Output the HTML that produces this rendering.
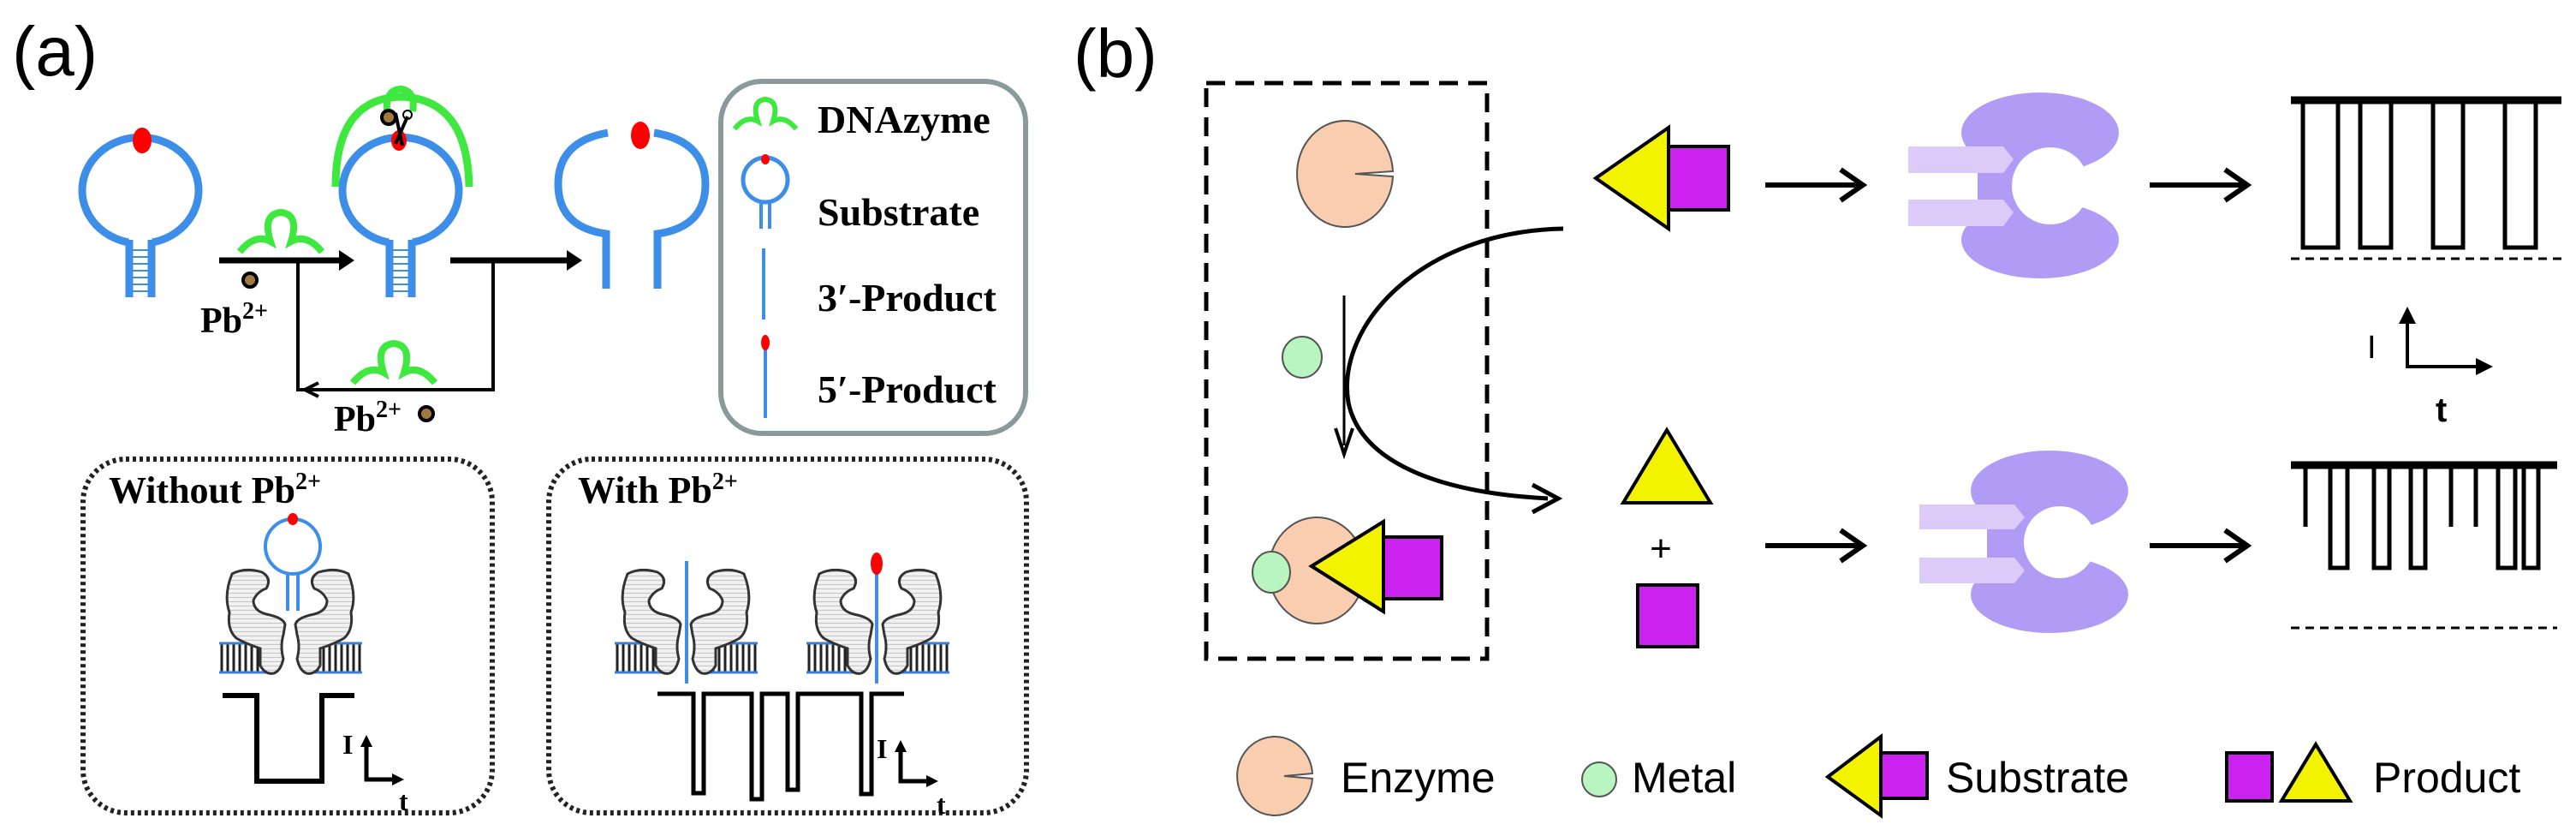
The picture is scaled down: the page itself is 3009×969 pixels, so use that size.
<!DOCTYPE html>
<html><head><meta charset="utf-8"><style>
html,body{margin:0;padding:0;background:#fff;}
svg{display:block;}
.sf{font-family:"Liberation Serif",serif;font-weight:bold;}
.ss{font-family:"Liberation Sans",sans-serif;}
</style></head><body>
<svg width="3009" height="969" viewBox="0 0 3009 969" xmlns="http://www.w3.org/2000/svg">
<defs>
 <pattern id="hs" width="6" height="5" patternUnits="userSpaceOnUse"><rect width="6" height="5" fill="#f2f2f2"/><line x1="0" y1="2.5" x2="6" y2="2.5" stroke="#c8c8c8" stroke-width="1.2"/></pattern>
 <pattern id="mem" width="7" height="40" patternUnits="userSpaceOnUse"><rect width="7" height="40" fill="#fff"/><line x1="3" y1="0" x2="3" y2="40" stroke="#222" stroke-width="3"/></pattern>
 <g id="blob"><path d="M15 5 Q30 -3 50 3 Q62 10 55 22 Q44 26 40 36 Q40 48 55 52 Q75 56 77 64 L75 76 Q71 90 75 104 Q72 118 64 121 Q54 123 48 112 L48 92 Q30 86 20 80 Q9 70 12 50 Q5 30 15 5 Z" fill="url(#hs)" stroke="#333" stroke-width="3"/></g>
 <g id="pore">
  <rect x="0" y="85" width="58" height="36" fill="url(#mem)"/>
  <rect x="112" y="85" width="55" height="36" fill="url(#mem)"/>
  <line x1="0" y1="86" x2="58" y2="86" stroke="#3d7fd8" stroke-width="3"/><line x1="0" y1="120" x2="58" y2="120" stroke="#3d7fd8" stroke-width="3"/>
  <line x1="112" y1="86" x2="167" y2="86" stroke="#3d7fd8" stroke-width="3"/><line x1="112" y1="120" x2="167" y2="120" stroke="#3d7fd8" stroke-width="3"/>
  <use href="#blob"/>
  <use href="#blob" transform="translate(166,0) scale(-1,1)"/>
 </g>
 <g id="dz"><path d="M-48 22 Q-30 0 -12 10 Q-22 -22 0 -24 Q22 -22 12 10 Q30 0 48 22" fill="none" stroke="#3ee83e" stroke-width="8"/></g>
</defs>

<!-- (a) -->
<text x="14" y="88" class="ss" font-size="82">(a)</text>

<g stroke="#3d8ee8" stroke-width="9" fill="none">
 <path d="M150 283 A68 62 0 1 1 178 283"/>
 <line x1="151" y1="280" x2="151" y2="347"/><line x1="177" y1="280" x2="177" y2="347"/>
</g>
<g stroke="#3d8ee8" stroke-width="2"><path d="M151 292H177M151 300H177M151 308H177M151 316H177M151 324H177M151 332H177M151 340H177"/></g>
<ellipse cx="166" cy="164" rx="11" ry="15" fill="#f00"/>

<path d="M392 218 Q392 115 468 113 Q546 115 548 218" fill="none" stroke="#3ee83e" stroke-width="9"/>
<path d="M452 130 Q450 105 468 104 Q486 106 482 130" fill="none" stroke="#3ee83e" stroke-width="8"/>
<g stroke="#3d8ee8" stroke-width="9" fill="none">
 <path d="M454 283 A68 62 0 1 1 482 283"/>
 <line x1="455" y1="280" x2="455" y2="347"/><line x1="481" y1="280" x2="481" y2="347"/>
</g>
<g stroke="#3d8ee8" stroke-width="2"><path d="M455 292H481M455 300H481M455 308H481M455 316H481M455 324H481M455 332H481M455 340H481"/></g>
<ellipse cx="466" cy="164" rx="9" ry="12" fill="#f00"/>
<circle cx="454" cy="137" r="8" fill="#a07840" stroke="#000" stroke-width="4"/>
<path d="M462 132 L470 170 M476 136 L462 168" stroke="#000" stroke-width="4"/>
<circle cx="476" cy="134" r="5" fill="none" stroke="#000" stroke-width="2"/>

<line x1="256" y1="304" x2="400" y2="304" stroke="#000" stroke-width="7"/>
<polygon points="396,292 414,304 396,316" fill="#000"/>
<use href="#dz" transform="translate(328,272)"/>
<circle cx="292" cy="327" r="8" fill="#a07840" stroke="#000" stroke-width="4"/>
<text x="234" y="388" class="sf" font-size="42">Pb<tspan dy="-16" font-size="28">2+</tspan></text>
<path d="M576 304 V455 H348 V304" fill="none" stroke="#000" stroke-width="4"/>
<path d="M372 447 L356 455 L372 463" fill="none" stroke="#000" stroke-width="4"/>
<line x1="526" y1="304" x2="666" y2="304" stroke="#000" stroke-width="7"/>
<polygon points="662,292 680,304 662,316" fill="#000"/>
<use href="#dz" transform="translate(460,425)"/>
<text x="390" y="503" class="sf" font-size="42">Pb<tspan dy="-16" font-size="28">2+</tspan></text>
<circle cx="498" cy="483" r="8" fill="#a07840" stroke="#000" stroke-width="4"/>

<g stroke="#3d8ee8" stroke-width="9" fill="none">
 <path d="M710 155 Q652 165 652 215 Q652 265 708 273 V337"/>
 <path d="M764 155 Q824 165 824 215 Q824 265 768 273 V337"/>
</g>
<ellipse cx="748" cy="158" rx="11" ry="16" fill="#f00"/>

<rect x="842" y="95" width="356" height="411" rx="48" fill="none" stroke="#8a9a9a" stroke-width="6"/>
<use href="#dz" transform="translate(894,134) scale(0.75)"/>
<text x="955" y="155" class="sf" font-size="46">DNAzyme</text>
<circle cx="894" cy="210" r="26" fill="none" stroke="#3d8ee8" stroke-width="5"/>
<ellipse cx="894" cy="186" rx="5" ry="6" fill="#f00"/>
<g stroke="#3d8ee8" stroke-width="4"><line x1="889" y1="234" x2="889" y2="267"/><line x1="899" y1="234" x2="899" y2="267"/></g>
<text x="955" y="263" class="sf" font-size="46">Substrate</text>
<line x1="892" y1="290" x2="892" y2="373" stroke="#3d8ee8" stroke-width="4"/>
<text x="955" y="363" class="sf" font-size="46">3′-Product</text>
<line x1="894" y1="405" x2="894" y2="488" stroke="#3d8ee8" stroke-width="4"/>
<ellipse cx="894" cy="400" rx="5" ry="9" fill="#f00"/>
<text x="955" y="470" class="sf" font-size="46">5′-Product</text>

<rect x="97" y="536" width="478" height="413" rx="50" fill="none" stroke="#222" stroke-width="6" stroke-dasharray="4 4"/>
<rect x="641" y="536" width="558" height="413" rx="50" fill="none" stroke="#222" stroke-width="6" stroke-dasharray="4 4"/>
<text x="127" y="587" class="sf" font-size="44">Without Pb<tspan dy="-16" font-size="28">2+</tspan></text>
<text x="675" y="587" class="sf" font-size="44">With Pb<tspan dy="-16" font-size="28">2+</tspan></text>

<use href="#pore" transform="translate(256,665)"/>
<circle cx="342" cy="638" r="32" fill="none" stroke="#3d8ee8" stroke-width="4"/>
<g stroke="#3d8ee8" stroke-width="4"><line x1="336" y1="668" x2="336" y2="713"/><line x1="348" y1="668" x2="348" y2="713"/></g>
<ellipse cx="342" cy="606" rx="6" ry="7" fill="#f00"/>
<path d="M260 812 H300 V912 H376 V812 H414" fill="none" stroke="#000" stroke-width="6"/>
<text x="400" y="880" class="sf" font-size="32">I</text>
<path d="M428 866 V910 H464" fill="none" stroke="#000" stroke-width="5"/>
<path d="M421 872 L428 858 L435 872Z M458 903 L472 910 L458 917Z" fill="#000"/>
<text x="466" y="946" class="sf" font-size="32">t</text>

<use href="#pore" transform="translate(718,665)"/>
<use href="#pore" transform="translate(942,665)"/>
<line x1="802" y1="655" x2="802" y2="798" stroke="#3d8ee8" stroke-width="4"/>
<line x1="1024" y1="665" x2="1024" y2="798" stroke="#3d8ee8" stroke-width="4"/>
<ellipse cx="1024" cy="658" rx="7" ry="13" fill="#f00"/>
<g fill="none" stroke="#000" stroke-width="5">
<path d="M768 810 H810 V926 H822 V810 H878 V933 H890 V810 H920 V922 H932 V810 H1006 V927 H1018 V810 H1056"/>
</g>
<text x="1024" y="885" class="sf" font-size="32">I</text>
<path d="M1052 872 V912 H1088" fill="none" stroke="#000" stroke-width="5"/>
<path d="M1045 878 L1052 864 L1059 878Z M1082 905 L1096 912 L1082 919Z" fill="#000"/>
<text x="1094" y="950" class="sf" font-size="32">t</text>

<!-- (b) -->
<text x="1254" y="90" class="ss" font-size="80">(b)</text>
<rect x="1409" y="97" width="328" height="672" fill="none" stroke="#000" stroke-width="5" stroke-dasharray="22 12"/>

<path d="M1627 206 A56 62 0 1 1 1627 200 L1583 203 Z" fill="#f9cdb0" stroke="#555" stroke-width="2"/>
<rect x="1949" y="171" width="70" height="74" fill="#cc22f0" stroke="#000" stroke-width="4"/>
<polygon points="1864,208 1949,149 1949,267" fill="#f3f300" stroke="#000" stroke-width="4"/>

<path d="M1826 267 C1660 270 1560 380 1575 470 C1590 540 1680 575 1808 582" fill="none" stroke="#000" stroke-width="5"/>
<path d="M1790 566 L1820 582 L1790 598" fill="none" stroke="#000" stroke-width="5"/>
<line x1="1570" y1="345" x2="1570" y2="520" stroke="#000" stroke-width="3"/>
<path d="M1560 500 L1570 530 L1580 500" fill="none" stroke="#000" stroke-width="4"/>
<ellipse cx="1521" cy="417" rx="23" ry="24" fill="#b8f5c0" stroke="#555" stroke-width="2"/>

<path d="M1594 669 A56 62 0 1 1 1594 663 L1560 666 Z" fill="#f9cdb0" stroke="#555" stroke-width="2"/>
<ellipse cx="1485" cy="668" rx="22" ry="24" fill="#b8f5c0" stroke="#555" stroke-width="2"/>
<rect x="1616" y="627" width="68" height="72" fill="#cc22f0" stroke="#000" stroke-width="4"/>
<polygon points="1532,661 1616,609 1616,714" fill="#f3f300" stroke="#000" stroke-width="4"/>

<polygon points="1947,502 1896,587 1998,587" fill="#f3f300" stroke="#000" stroke-width="4"/>
<text x="1940" y="655" class="ss" font-size="44" text-anchor="middle">+</text>
<rect x="1913" y="683" width="70" height="72" fill="#cc22f0" stroke="#000" stroke-width="4"/>

<g stroke="#000" stroke-width="6" fill="none">
<line x1="2062" y1="216" x2="2172" y2="216"/><path d="M2150 198 L2176 216 L2150 234"/>
<line x1="2511" y1="216" x2="2621" y2="216"/><path d="M2599 198 L2625 216 L2599 234"/>
<line x1="2062" y1="637" x2="2172" y2="637"/><path d="M2150 619 L2176 637 L2150 655"/>
<line x1="2511" y1="637" x2="2621" y2="637"/><path d="M2599 619 L2625 637 L2599 655"/>
</g>

<g>
<ellipse cx="2383" cy="155" rx="92" ry="47" fill="#b19cf5"/>
<ellipse cx="2383" cy="280" rx="92" ry="45" fill="#b19cf5"/>
<rect x="2310" y="155" width="80" height="125" fill="#b19cf5"/>
<circle cx="2395" cy="217" r="45" fill="#fff"/>
<rect x="2395" y="200" width="90" height="35" fill="#fff"/>
<polygon points="2229,171 2340,171 2352,186 2340,202 2229,202" fill="#dccbf8"/>
<polygon points="2229,233 2340,233 2352,248 2340,264 2229,264" fill="#dccbf8"/>
</g>
<g transform="translate(11,411)">
<ellipse cx="2383" cy="162" rx="92" ry="47" fill="#b19cf5"/>
<ellipse cx="2383" cy="283" rx="92" ry="45" fill="#b19cf5"/>
<rect x="2310" y="160" width="80" height="120" fill="#b19cf5"/>
<circle cx="2395" cy="222" r="42" fill="#fff"/>
<rect x="2395" y="206" width="90" height="32" fill="#fff"/>
<polygon points="2231,178 2342,178 2354,193 2342,207 2231,207" fill="#dccbf8"/>
<polygon points="2231,240 2342,240 2354,255 2342,270 2231,270" fill="#dccbf8"/>
</g>

<line x1="2676" y1="117" x2="2992" y2="117" stroke="#000" stroke-width="9"/>
<g fill="none" stroke="#000" stroke-width="5">
<path d="M2690 117 V289 H2731 V117"/><path d="M2757 117 V289 H2793 V117"/>
<path d="M2842 117 V289 H2877 V117"/><path d="M2926 117 V289 H2962 V117"/>
</g>
<line x1="2676" y1="302" x2="2992" y2="302" stroke="#000" stroke-width="3" stroke-dasharray="10 7"/>
<text x="2765" y="418" class="ss" font-size="38">I</text>
<path d="M2812 370 V428 H2900" fill="none" stroke="#000" stroke-width="4"/>
<path d="M2802 378 L2812 358 L2822 378Z M2892 418 L2912 428 L2892 438Z" fill="#000"/>
<text x="2845" y="492" class="ss" font-size="40" font-weight="bold">t</text>

<line x1="2676" y1="543" x2="2987" y2="543" stroke="#000" stroke-width="9"/>
<g fill="none" stroke="#000" stroke-width="5">
<path d="M2693 543 V615"/><path d="M2722 543 V663 H2742 V543"/><path d="M2773 543 V663 H2791 V543"/>
<path d="M2816 543 V663 H2833 V543"/><path d="M2863 543 V615"/><path d="M2892 543 V615"/>
<path d="M2918 543 V663 H2938 V543"/><path d="M2948 543 V663 H2965 V543"/>
</g>
<line x1="2676" y1="733" x2="2987" y2="733" stroke="#000" stroke-width="3" stroke-dasharray="10 7"/>

<path d="M1533 909 A44 46 0 1 1 1533 903 L1500 906 Z" fill="#f9cdb0" stroke="#555" stroke-width="2"/>
<text x="1566" y="925" class="ss" font-size="50">Enzyme</text>
<ellipse cx="1868" cy="910" rx="20" ry="20" fill="#b8f5c0" stroke="#555" stroke-width="2"/>
<text x="1906" y="925" class="ss" font-size="50">Metal</text>
<rect x="2197" y="879" width="54" height="53" fill="#cc22f0" stroke="#000" stroke-width="4"/>
<polygon points="2135,907 2197,860 2197,952" fill="#f3f300" stroke="#000" stroke-width="4"/>
<text x="2273" y="925" class="ss" font-size="50">Substrate</text>
<rect x="2601" y="879" width="53" height="56" fill="#cc22f0" stroke="#000" stroke-width="4"/>
<polygon points="2705,869 2665,935 2745,935" fill="#f3f300" stroke="#000" stroke-width="4"/>
<text x="2772" y="925" class="ss" font-size="50">Product</text>
</svg>
</body></html>
